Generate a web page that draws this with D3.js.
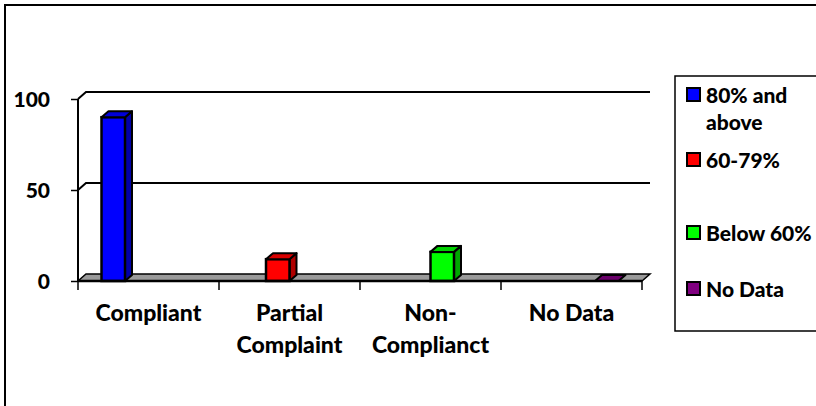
<!DOCTYPE html>
<html>
<head>
<meta charset="utf-8">
<script src="https://cdn.jsdelivr.net/npm/d3@7"></script>
<style>
  html, body { margin: 0; padding: 0; background: #fff; overflow: hidden; }
  svg { display: block; }
  text { font-family: Lato, "Open Sans", sans-serif; font-weight: 900; fill: #000; }
</style>
</head>
<body>
<svg id="chart" width="816" height="406"></svg>
<script>
// Compliance categories along the x axis (each label split into its display lines)
const categoryKeys = ["Compliant", "Partial Complaint", "Non-Complianct", "No Data"];
const categoryLines = [["Compliant"], ["Partial", "Complaint"], ["Non-", "Complianct"], ["No Data"]];

// Series (one per score band); null = no value for that category
const seriesNames = ["80% and above", "60-79%", "Below 60%", "No Data"];
const legendLines = [["80% and", "above"], ["60-79%"], ["Below 60%"], ["No Data"]];
const band80 = [90, null, null, null];
const band60 = [null, 12, null, null];
const bandBelow = [null, null, 16, null];
const bandNoData = [null, null, null, 0];
const seriesValues = [band80, band60, bandBelow, bandNoData];

const yTicks = [0, 50, 100];

const palette = [
  { front: "#0000FF", side: "#0000A8", top: "#0000D8" },
  { front: "#FF0000", side: "#B00000", top: "#D80000" },
  { front: "#00FF00", side: "#00A800", top: "#00D000" },
  { front: "#800080", side: "#500050", top: "#6A006A" }
];

const W = 816, H = 406;
const svg = d3.select("#chart");

// Outer chart frame: top and left edges (right and bottom fall outside the view)
svg.append("path")
  .attr("d", `M5,${H} V5 H${W}`)
  .attr("fill", "none").attr("stroke", "#000").attr("stroke-width", 2);

// Plot geometry (front plane) and 3-D depth offset
const plotLeft = 78, plotRight = 642;
const dx = 8, dy = -7;       // wall / floor depth
const bdx = 7, bdy = -6;     // bar depth

const x0 = d3.scaleBand().domain(categoryKeys).range([plotLeft, plotRight]).paddingInner(0).paddingOuter(0);
const x1 = d3.scaleBand().domain(d3.range(seriesNames.length)).range([0, x0.bandwidth()]).paddingInner(0).paddingOuter(1);
const y = d3.scaleLinear().domain([0, 100]).range([281, 99]);

const g = svg.append("g");

// Floor
const y0 = y(0);
g.append("path")
  .attr("d", `M${plotLeft},${y0} L${plotRight},${y0} L${plotRight + dx},${y0 + dy} L${plotLeft + dx},${y0 + dy} Z`)
  .attr("fill", "#9a9a9a").attr("stroke", "#000").attr("stroke-width", 1.5);

// Back-wall gridlines with their diagonal joins to the axis
yTicks.filter(t => t > 0).forEach(t => {
  const yy = y(t);
  g.append("path")
    .attr("d", `M${plotLeft},${yy} L${plotLeft + dx},${yy + dy} L${plotRight + dx},${yy + dy}`)
    .attr("fill", "none").attr("stroke", "#000").attr("stroke-width", 2);
});

// 3-D bars
seriesValues.forEach((vals, si) => {
  vals.forEach((v, ci) => {
    if (v === null) return;
    const c = palette[si];
    const xl = x0(categoryKeys[ci]) + x1(si);
    const w = x1.bandwidth();
    const yt = y(v), yb = y(0);
    const bar = g.append("g");
    if (v > 0) {
      // side face
      bar.append("path")
        .attr("d", `M${xl + w},${yt} L${xl + w + bdx},${yt + bdy} L${xl + w + bdx},${yb + bdy} L${xl + w},${yb} Z`)
        .attr("fill", c.side).attr("stroke", "#000").attr("stroke-width", 2).attr("stroke-linejoin", "round");
      // front face
      bar.append("rect")
        .attr("x", xl).attr("y", yt).attr("width", w).attr("height", yb - yt)
        .attr("fill", c.front).attr("stroke", "#000").attr("stroke-width", 2.5);
    }
    // top face
    bar.append("path")
      .attr("d", `M${xl},${yt} L${xl + bdx},${yt + bdy} L${xl + w + bdx},${yt + bdy} L${xl + w},${yt} Z`)
      .attr("fill", c.top).attr("stroke", "#000").attr("stroke-width", 2).attr("stroke-linejoin", "round");
  });
});

// Front floor edge (heavier)
g.append("line")
  .attr("x1", plotLeft).attr("x2", plotRight).attr("y1", y0).attr("y2", y0)
  .attr("stroke", "#000").attr("stroke-width", 2.5);

// Y axis
const yAxis = d3.axisLeft(y).tickValues(yTicks).tickSize(7).tickFormat("");
const ya = svg.append("g").attr("transform", `translate(${plotLeft},0)`).call(yAxis);
ya.select(".domain").attr("stroke", "#000").attr("stroke-width", 2).attr("d", `M0,${y(100)}V${y(0)}`);
ya.selectAll(".tick line").attr("stroke", "#000").attr("stroke-width", 1.5);

svg.append("g").selectAll("text").data(yTicks).join("text")
  .attr("x", 50).attr("y", d => y(d)).attr("dy", "0.36em")
  .attr("text-anchor", "end").attr("font-size", 21)
  .text(d => d);

// X axis tick marks at category boundaries
const boundaries = categoryKeys.map(k => x0(k)).concat([plotRight]);
svg.append("g").selectAll("line").data(boundaries).join("line")
  .attr("x1", d => d).attr("x2", d => d).attr("y1", y0).attr("y2", y0 + 9)
  .attr("stroke", "#000").attr("stroke-width", 1.5);

// Category labels
const labels = svg.append("g").selectAll("text").data(categoryLines).join("text")
  .attr("text-anchor", "middle").attr("font-size", 23)
  .attr("x", (d, i) => x0(categoryKeys[i]) + x0.bandwidth() / 2)
  .attr("y", 321);
labels.selectAll("tspan").data(d => d).join("tspan")
  .attr("x", function () { return d3.select(this.parentNode).attr("x"); })
  .attr("dy", (d, i) => i === 0 ? 0 : 32)
  .text(d => d);

// Legend box: open on the right where it meets the page edge
const legend = svg.append("g");
legend.append("rect")
  .attr("x", 675).attr("y", 76).attr("width", W - 675).attr("height", 255)
  .attr("fill", "#fff");
legend.append("path")
  .attr("d", `M${W},76 H675 V331 H${W}`)
  .attr("fill", "none").attr("stroke", "#000").attr("stroke-width", 1.5);

const legendY = [95, 160, 233, 289];
seriesNames.forEach((name, i) => {
  const cy = legendY[i];
  legend.append("rect")
    .attr("x", 687).attr("y", cy - 7).attr("width", 13).attr("height", 13)
    .attr("fill", palette[i].front).attr("stroke", "#000").attr("stroke-width", 2);
  const t = legend.append("text").attr("x", 706).attr("y", cy).attr("font-size", 21);
  legendLines[i].forEach((ln, j) => {
    t.append("tspan").attr("x", 706).attr("dy", j === 0 ? "0.36em" : 27).text(ln);
  });
});
</script>
</body>
</html>
